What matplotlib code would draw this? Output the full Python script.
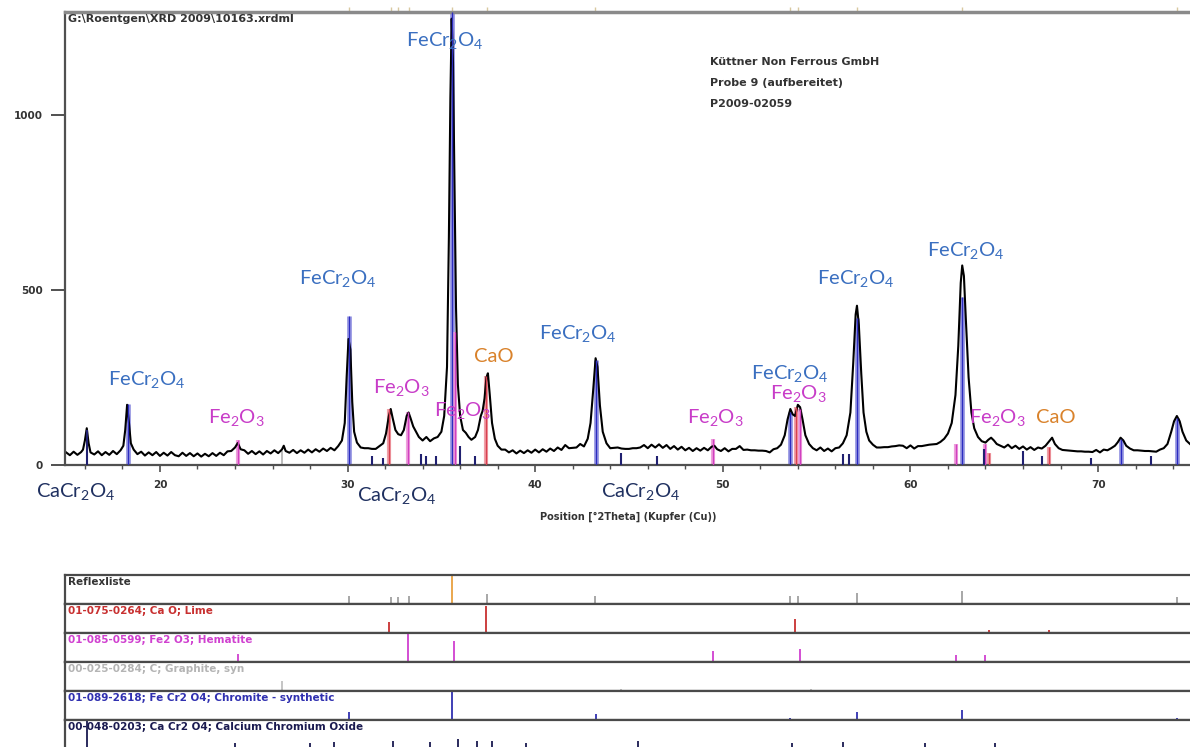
import matplotlib
matplotlib.use('Agg')
import matplotlib.pyplot as plt
from matplotlib.ticker import MultipleLocator

plt.rcParams['font.family'] = ['DejaVu Sans']
plt.rcParams['mathtext.fontset'] = 'custom'
plt.rcParams['mathtext.rm'] = 'Lato'
plt.rcParams['mathtext.it'] = 'Lato'

scan_theta = [
    15.0, 15.2, 15.4, 15.6, 15.8, 15.9, 16.0, 16.1, 16.2, 16.3, 16.5, 16.7, 16.9, 17.1, 17.3, 17.5, 17.7, 17.9,
    18.05, 18.15, 18.25, 18.35, 18.45, 18.6, 18.8, 19.0, 19.2, 19.4, 19.6, 19.8, 20.0, 20.2, 20.4, 20.6, 20.8,
    21.0, 21.2, 21.4, 21.6, 21.8, 22.0, 22.2, 22.4, 22.6, 22.8, 23.0, 23.2, 23.4, 23.6, 23.8, 24.0, 24.15, 24.3,
    24.5, 24.7, 24.9, 25.1, 25.3, 25.5, 25.7, 25.9, 26.1, 26.3, 26.5, 26.6, 26.7, 26.9, 27.1, 27.3, 27.5, 27.7,
    27.9, 28.1, 28.3, 28.5, 28.7, 28.9, 29.1, 29.3, 29.5, 29.7, 29.85, 29.95, 30.05, 30.15, 30.25, 30.35, 30.5,
    30.7, 30.9, 31.1, 31.3, 31.5, 31.7, 31.9, 32.05, 32.2, 32.3, 32.4, 32.55, 32.7, 32.85, 33.0, 33.15, 33.25,
    33.35, 33.5, 33.65, 33.8, 34.0, 34.2, 34.4, 34.6, 34.8, 35.0, 35.15, 35.3, 35.4, 35.48, 35.55, 35.62, 35.7,
    35.78, 35.88, 36.0, 36.15, 36.3, 36.45, 36.6, 36.8, 36.95, 37.1, 37.2, 37.3, 37.4, 37.48, 37.58, 37.7, 37.85,
    38.0, 38.2, 38.4, 38.6, 38.8, 39.0, 39.2, 39.4, 39.6, 39.8, 40.0, 40.2, 40.4, 40.6, 40.8, 41.0, 41.2, 41.4,
    41.6, 41.8, 42.0, 42.2, 42.4, 42.6, 42.8, 42.95, 43.1, 43.22, 43.32, 43.45, 43.6, 43.8, 44.0, 44.2, 44.4,
    44.6, 44.8, 45.0, 45.2, 45.4, 45.6, 45.8, 46.0, 46.2, 46.4, 46.6, 46.8, 47.0, 47.2, 47.4, 47.6, 47.8, 48.0,
    48.2, 48.4, 48.6, 48.8, 49.0, 49.2, 49.4, 49.55, 49.7, 49.9, 50.1, 50.3, 50.5, 50.7, 50.9, 51.1, 51.3, 51.5,
    51.7, 51.9, 52.1, 52.3, 52.5, 52.7, 52.9, 53.1, 53.3, 53.45, 53.6, 53.72, 53.85, 54.0, 54.12, 54.25, 54.4,
    54.6, 54.8, 55.0, 55.2, 55.4, 55.6, 55.8, 56.0, 56.2, 56.4, 56.6, 56.8, 56.95, 57.08, 57.15, 57.25, 57.38,
    57.5, 57.65, 57.8, 58.0, 58.2, 58.4, 58.6, 58.8, 59.0, 59.2, 59.4, 59.6, 59.8, 60.0, 60.2, 60.4, 60.6, 60.8,
    61.0, 61.2, 61.4, 61.6, 61.8, 62.0, 62.2, 62.4, 62.55, 62.68, 62.76, 62.85, 62.95, 63.1, 63.25, 63.4, 63.6,
    63.8, 64.0, 64.15, 64.3, 64.45, 64.6, 64.8, 65.0, 65.2, 65.4, 65.6, 65.8, 66.0, 66.2, 66.4, 66.6, 66.8, 67.0,
    67.2, 67.4, 67.55, 67.7, 67.9, 68.1, 68.3, 68.5, 68.7, 68.9, 69.1, 69.3, 69.5, 69.7, 69.9, 70.1, 70.3, 70.5,
    70.7, 70.9, 71.05, 71.2, 71.35, 71.5, 71.7, 71.9, 72.1, 72.3, 72.5, 72.7, 72.9, 73.1, 73.3, 73.5, 73.7, 73.9,
    74.05, 74.2, 74.35, 74.5, 74.7, 74.9, 75.0,
]
scan_counts = [
    36, 28, 38, 29, 37, 44, 70, 105, 62, 36, 30, 39, 28, 37, 29, 40, 31, 42,
    55, 100, 172, 120, 62, 44, 31, 38, 27, 36, 28, 37, 26, 35, 27, 37, 28,
    25, 35, 26, 34, 25, 33, 24, 32, 25, 34, 26, 35, 28, 39, 40, 50, 63, 45,
    42, 32, 40, 31, 39, 30, 40, 33, 42, 34, 44, 55, 40, 35, 43, 34, 42, 35,
    44, 36, 45, 38, 47, 40, 49, 42, 54, 70, 120, 250, 360, 330, 180, 95, 64,
    50, 48, 48, 46, 46, 54, 62, 90, 140, 160, 135, 100, 88, 85, 100, 140, 150,
    135, 110, 95, 80, 70, 80, 68, 76, 80, 95, 140, 280, 650, 1050, 1275, 1150, 800,
    450, 230, 140, 100, 92, 80, 72, 80, 100, 140, 155, 190, 250, 262, 200, 120, 75,
    55, 44, 44, 36, 42, 33, 41, 34, 42, 35, 44, 36, 45, 38, 47, 40, 50, 43,
    57, 48, 49, 50, 60, 53, 75, 120, 220, 305, 280, 170, 95, 62, 48, 49, 50,
    47, 46, 46, 48, 48, 50, 57, 48, 58, 50, 59, 49, 57, 46, 54, 44, 52, 42,
    49, 40, 48, 41, 49, 42, 52, 55, 45, 40, 48, 39, 46, 46, 54, 43, 44, 42,
    42, 41, 41, 40, 36, 45, 48, 58, 85, 130, 160, 145, 140, 172, 165, 130, 85,
    60, 48, 42, 50, 40, 47, 39, 48, 50, 62, 85, 150, 290, 430, 455, 400, 260,
    150, 95, 70, 58, 50, 50, 51, 51, 53, 54, 56, 55, 48, 56, 47, 54, 54, 56,
    58, 59, 60, 66, 75, 90, 120, 200, 340, 520, 570, 540, 420, 250, 150, 105, 80,
    68, 64, 72, 78, 70, 60, 55, 50, 58, 48, 55, 46, 53, 44, 51, 43, 50, 47,
    55, 68, 78, 60, 48, 43, 42, 41, 40, 39, 39, 38, 38, 37, 43, 36, 44, 42,
    48, 55, 65, 78, 70, 55, 47, 42, 42, 41, 40, 40, 39, 38, 44, 48, 60, 95,
    125, 140, 125, 95, 70, 60, 55,
]
assert len(scan_theta) == len(scan_counts)

# Reference lines drawn in the diffractogram (2Theta, counts)
fecr2o4_pos = [18.3, 30.1, 35.55, 43.22, 53.6, 57.15, 62.75, 71.2, 74.2]
fecr2o4_cnt = [175, 425, 1294, 300, 150, 420, 480, 75, 135]
fe2o3_pos = [24.15, 33.2, 35.7, 49.5, 54.1, 62.45, 64.0]
fe2o3_cnt = [70, 150, 380, 75, 160, 60, 60]
cao_pos = [32.2, 37.4, 53.9, 64.2, 67.4]
cao_cnt = [160, 255, 165, 35, 50]
cacr2o4_pos = [16.1, 31.3, 31.9, 33.9, 34.2, 34.7, 36.0, 36.8, 44.6, 46.5, 56.4, 56.7, 63.9, 66.0, 67.0, 69.6, 72.8]
cacr2o4_cnt = [100, 25, 20, 30, 25, 25, 55, 25, 35, 25, 30, 30, 45, 40, 25, 20, 25]
graphite_pos = [26.5]
graphite_cnt = [40]

# Reflex list rows (2Theta, relative height)
peaklist_pos = [30.1, 32.3, 32.7, 33.25, 35.55, 37.45, 43.2, 53.6, 54.0, 57.15, 62.75, 74.2]
peaklist_rel = [0.3, 0.25, 0.25, 0.3, 1.0, 0.35, 0.3, 0.3, 0.3, 0.4, 0.45, 0.25]
cao_ref_pos = [32.2, 37.4, 53.85, 64.2, 67.4]
cao_ref_rel = [0.38, 0.95, 0.5, 0.1, 0.1]
fe2o3_ref_pos = [24.15, 33.2, 35.65, 49.5, 54.1, 62.45, 64.0]
fe2o3_ref_rel = [0.3, 1.0, 0.75, 0.4, 0.45, 0.25, 0.25]
graphite_ref_pos = [26.5, 42.4, 44.6, 54.7, 59.9, 77.2]
graphite_ref_rel = [0.35, 0.05, 0.08, 0.08, 0.05, 0.05]
fecr2o4_ref_pos = [18.3, 30.1, 35.55, 43.22, 53.6, 57.15, 62.75, 74.2]
fecr2o4_ref_rel = [0.05, 0.3, 1.0, 0.2, 0.08, 0.3, 0.35, 0.08]
cacr2o4_ref_pos = [16.1, 24.0, 28.0, 29.3, 32.4, 34.4, 35.9, 36.9, 37.7, 39.5, 45.5, 53.7, 56.4, 60.8, 64.5]
cacr2o4_ref_rel = [1.0, 0.2, 0.2, 0.25, 0.3, 0.25, 0.35, 0.3, 0.3, 0.2, 0.3, 0.2, 0.25, 0.2, 0.2]

row_titles = [
    'Reflexliste',
    '01-075-0264; Ca O; Lime',
    '01-085-0599; Fe2 O3; Hematite',
    '00-025-0284; C; Graphite, syn',
    '01-089-2618; Fe Cr2 O4; Chromite - synthetic',
    '00-048-0203; Ca Cr2 O4; Calcium Chromium Oxide',
]

FECR = 'FeCr$_2$O$_4$'
FEO = 'Fe$_2$O$_3$'
CACR = 'CaCr$_2$O$_4$'

W, H = 1190, 747
XLIM = (14.94, 74.90)


def px_box(x0, y0, x1, y1):
    """axes rectangle from pixel corners (top-left origin)"""
    return [x0 / W, 1 - y1 / H, (x1 - x0) / W, (y1 - y0) / H]


fig = plt.figure(figsize=(W / 100, H / 100), dpi=100)
fig.patch.set_facecolor('white')

# ---- diffractogram ----
ax = fig.add_axes(px_box(65, 12, 1190, 465))
ax.set_xlim(*XLIM)
ax.set_ylim(0, 1294)

# stick lines, broad pale band + thin line
ax.vlines(fecr2o4_pos, 0, fecr2o4_cnt, color='#9c9ce4', lw=3.5, zorder=1)
ax.vlines(fecr2o4_pos, 0, fecr2o4_cnt, color='#2c2cc0', lw=1.0, zorder=3)
ax.vlines(fe2o3_pos, 0, fe2o3_cnt, color='#eea0dc', lw=3.0, zorder=1)
ax.vlines(fe2o3_pos, 0, fe2o3_cnt, color='#d040c0', lw=1.0, zorder=3)
ax.vlines(cao_pos, 0, cao_cnt, color='#f0a0a8', lw=3.0, zorder=1)
ax.vlines(cao_pos, 0, cao_cnt, color='#d84050', lw=1.0, zorder=3)
ax.vlines(cacr2o4_pos, 0, cacr2o4_cnt, color='#202070', lw=1.5, zorder=3)
ax.vlines(graphite_pos, 0, graphite_cnt, color='#b0b0b0', lw=1.2, zorder=1)

ax.plot(scan_theta, scan_counts, color='black', lw=1.5, zorder=2)

# faint reflex ticks above the top frame
ax.vlines(peaklist_pos, 1.0, 1.012, transform=ax.get_xaxis_transform(),
          color='#d8c8a0', lw=1.0, clip_on=False)

for side in ['left', 'bottom']:
    ax.spines[side].set_color('#505050')
    ax.spines[side].set_linewidth(1.6)
ax.spines['top'].set_color('#8a8a8a')
ax.spines['top'].set_linewidth(2.5)
ax.spines['right'].set_visible(False)

ax.set_yticks([0, 500, 1000])
ax.xaxis.set_major_locator(MultipleLocator(10))
ax.xaxis.set_minor_locator(MultipleLocator(2))
ax.tick_params(axis='y', length=10, width=1.4, color='#505050', pad=6,
               labelsize=7.5, labelcolor='#333333')
ax.tick_params(axis='x', which='major', length=5, width=1.2, color='#505050',
               pad=6, labelsize=7.5, labelcolor='#333333')
ax.tick_params(axis='x', which='minor', length=3, width=1.0, color='#505050')
ax.set_xticks([20, 30, 40, 50, 60, 70])
for lab in ax.get_xticklabels() + ax.get_yticklabels():
    lab.set_fontweight('bold')

small = dict(fontsize=8, fontweight='bold', color='#333333', va='center')
ax.text(15.1, 1275, 'G:\\Roentgen\\XRD 2009\\10163.xrdml', ha='left', **small)
ax.text(0.573, 0.8896, 'Küttner Non Ferrous GmbH', transform=ax.transAxes, **small)
ax.text(0.573, 0.8433, 'Probe 9 (aufbereitet)', transform=ax.transAxes, **small)
ax.text(0.573, 0.7969, 'P2009-02059', transform=ax.transAxes, **small)
ax.text(44.95, -148, 'Position [°2Theta] (Kupfer (Cu))', fontsize=7,
        fontweight='bold', color='#333333', ha='center', va='center', clip_on=False)

# phase labels
blue, pink, orange, navy = '#3a6fc0', '#c83cc8', '#d9822b', '#1f3060'
labels = [
    (FECR, 35.19, 1214, blue), (FECR, 29.49, 534, blue), (FECR, 19.31, 243, blue),
    (FEO, 24.05, 137, pink), (FEO, 32.85, 220, pink), (FEO, 36.10, 157, pink),
    ('CaO', 37.80, 311, orange), (FECR, 42.28, 377, blue), (FEO, 49.58, 137, pink),
    (FECR, 53.58, 260, blue), (FEO, 54.01, 203, pink), (FECR, 57.10, 534, blue),
    (FECR, 62.96, 614, blue), (FEO, 64.62, 137, pink), ('CaO', 67.76, 137, orange),
    (CACR, 15.52, -77, navy), (CACR, 32.63, -86, navy), (CACR, 45.64, -77, navy),
]
for txt, x, y, c in labels:
    ax.text(x, y, txt, color=c, fontsize=14.5, family='Lato', ha='center',
            va='center', clip_on=False, zorder=5)

# ---- reflex list ----
rows = [
    (peaklist_pos, peaklist_rel, '#a0a0a0', '#333333'),
    (cao_ref_pos, cao_ref_rel, '#c83030', '#c83030'),
    (fe2o3_ref_pos, fe2o3_ref_rel, '#d040d0', '#d040d0'),
    (graphite_ref_pos, graphite_ref_rel, '#c0c0c0', '#b4b4b4'),
    (fecr2o4_ref_pos, fecr2o4_ref_rel, '#3030b0', '#3030b0'),
    (cacr2o4_ref_pos, cacr2o4_ref_rel, '#1a1a50', '#1a1a50'),
]
row_h = 29
for i, (pos, rel, stick_col, txt_col) in enumerate(rows):
    top = 575 + i * row_h
    rax = fig.add_axes(px_box(65, top, 1190, top + row_h))
    rax.set_xlim(*XLIM)
    rax.set_ylim(0, 1)
    rax.set_xticks([])
    rax.set_yticks([])
    for side in ['left', 'top', 'bottom']:
        rax.spines[side].set_color('#4a4a4a')
        rax.spines[side].set_linewidth(1.6)
    rax.spines['right'].set_visible(False)
    cols = [stick_col] * len(pos)
    if i == 0:
        cols = ['#e8a040' if r >= 1.0 else stick_col for r in rel]
    rax.vlines(pos, 0, [r * 0.97 for r in rel], colors=cols, lw=1.3)
    rax.text(0.003, 0.76, row_titles[i], transform=rax.transAxes, fontsize=7.5,
             fontweight='bold', color=txt_col, va='center', ha='left')

fig.savefig('out.png', dpi=100)
